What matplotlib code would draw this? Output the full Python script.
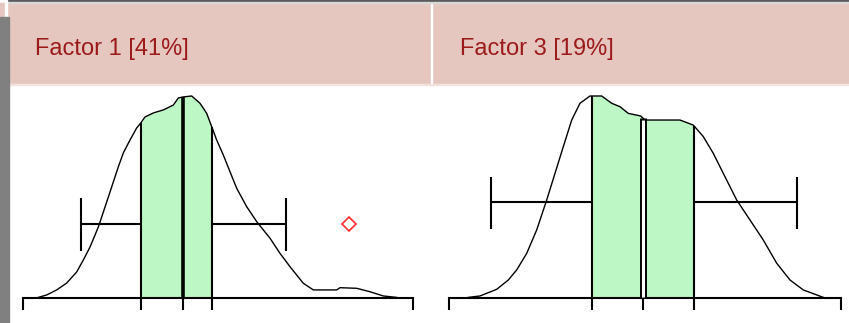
import matplotlib.pyplot as plt
from matplotlib.patches import Rectangle
import numpy as np

#-------------------------------------------------------------------------
# data (x in score units, density scaled to peak = 1)
#-------------------------------------------------------------------------

titles = [ 'Factor 1 [41%]', 'Factor 3 [19%]' ]

f1_x = [ 1.53, 2.37, 3.37, 4.37, 5.37, 6.03, 6.70, 7.53, 8.20, 8.87, 9.53,
         10.03, 10.70, 11.37, 11.77, 12.20, 13.03, 14.03, 15.03, 15.53, 15.97,
         16.87, 17.70, 18.37, 18.87, 19.37, 20.03, 20.70, 21.37, 22.37, 23.37,
         24.70, 25.70, 26.70, 28.03, 29.03, 31.37, 31.70, 33.37, 34.70, 36.03,
         37.37 ]
f1_d = [ 0.003, 0.015, 0.040, 0.074, 0.129, 0.188, 0.252, 0.351, 0.450, 0.550,
         0.649, 0.718, 0.782, 0.842, 0.866, 0.896, 0.916, 0.931, 0.955, 0.990,
         0.995, 1.000, 0.964, 0.914, 0.848, 0.782, 0.708, 0.625, 0.543, 0.452,
         0.378, 0.296, 0.221, 0.155, 0.073, 0.040, 0.040, 0.051, 0.048, 0.031,
         0.010, 0.003 ]
f1_stats   = [ 0.0, 11.77, 16.03, 18.87, 39.03 ]   # min, q1, median, q3, max
f1_whisk   = [ 5.8, 26.3 ]
f1_whisk_y = 0.366
f1_cap     = [ 0.233, 0.495 ]
f1_point   = [ 32.63, 0.365 ]

f2_x = [ 1.93, 3.10, 4.77, 5.93, 6.77, 7.77, 8.77, 9.77, 10.60, 11.43, 12.27,
         13.10, 14.10, 15.27, 16.27, 17.10, 17.93, 19.17, 19.60, 23.10, 24.43,
         25.43, 26.43, 27.43, 28.77, 30.10, 31.43, 32.77, 34.10, 35.43, 37.43 ]
f2_d = [ 0.003, 0.010, 0.043, 0.089, 0.139, 0.221, 0.337, 0.485, 0.617, 0.749,
         0.881, 0.964, 1.000, 1.000, 0.964, 0.947, 0.914, 0.901, 0.881, 0.881,
         0.856, 0.799, 0.716, 0.617, 0.485, 0.386, 0.287, 0.172, 0.089, 0.040,
         0.003 ]
f2_stats   = [ 0.0, 14.27, 19.37, 24.50, 39.17 ]
f2_whisk   = [ 4.2, 34.77 ]
f2_whisk_y = 0.474
f2_cap     = [ 0.342, 0.600 ]

#-------------------------------------------------------------------------
# helpers
#-------------------------------------------------------------------------

W, H = 849, 323
pink  = '#e6c7c0'
green = '#bdf7c6'
title_color = '#9b1b1b'

def fx( px ):
  return px / W

def fy( py ):
  return 1 - py / H

def draw_panel( ax, x, d, stats, whisk, whisk_y, cap, split_median ):
  x = np.asarray( x )
  d = np.asarray( d )
  lo, q1, med, q3, hi = stats
  h = lambda v: np.interp( v, x, d )

  # shaded inter-quartile area
  inner = ( x > q1 ) & ( x < q3 )
  xs = np.concatenate( [ [q1], x[inner], [q3] ] )
  ys = np.concatenate( [ [h(q1)], d[inner], [h(q3)] ] )
  ax.fill_between( xs, 0, ys, color=green, lw=0, zorder=1 )

  ax.plot( x, d, color='black', lw=1.0, zorder=3 )

  # baseline and ticks
  tick = 0.06
  ax.plot( [lo, hi], [0, 0], color='black', lw=1.5, zorder=4 )
  ax.vlines( stats, -tick, 0, color='black', lw=1.5, zorder=4 )
  ax.vlines( [q1, q3], 0, [h(q1), h(q3)], color='black', lw=1.5, zorder=4 )

  # median
  if split_median:
    ax.vlines( med, 0, h(med), color='black', lw=5.0, zorder=4 )
    ax.vlines( med, 0.005, h(med) - 0.01, color='white', lw=2.2, zorder=5 )
  else:
    ax.vlines( med, 0, h(med), color='black', lw=2.6, zorder=4 )

  # whiskers
  ax.hlines( [whisk_y, whisk_y], [whisk[0], q3], [q1, whisk[1]],
             color='black', lw=1.5, zorder=4 )
  ax.vlines( whisk, cap[0], cap[1], color='black', lw=1.5, zorder=4 )

#-------------------------------------------------------------------------
# main
#-------------------------------------------------------------------------

fig = plt.figure( figsize=(W/100, H/100), dpi=100 )

# header band
fig.patches.append( Rectangle( (0, fy(84)), 1, (84-3)/H, transform=fig.transFigure,
                               color=pink, zorder=0 ) )
fig.patches.append( Rectangle( (fx(430.5), fy(84)), fx(1.6), (84-3)/H,
                               transform=fig.transFigure, color='white', zorder=1 ) )
fig.patches.append( Rectangle( (fx(7), fy(2)), 1, 2/H, transform=fig.transFigure,
                               color='#5a5a5a', zorder=1 ) )
fig.patches.append( Rectangle( (fx(7), fy(3)), 1, 1/H, transform=fig.transFigure,
                               color='#d8d8d8', zorder=1 ) )
fig.patches.append( Rectangle( (fx(5), fy(17)), fx(2), 17/H, transform=fig.transFigure,
                               color='white', zorder=1 ) )
fig.patches.append( Rectangle( (fx(7), fy(85.5)), 1, 1.5/H, transform=fig.transFigure,
                               color='#f3e3df', zorder=1 ) )

# panels
ylim = ( -(323-298)/202, (298-84)/202 )
ax1 = fig.add_axes( [fx(0), 0, fx(430), (323-84)/H] )
ax1.set_xlim( -2.3, 40.7 )
ax1.set_ylim( *ylim )
ax1.axis( 'off' )
draw_panel( ax1, f1_x, f1_d, f1_stats, f1_whisk, f1_whisk_y, f1_cap, False )
ax1.plot( f1_point[0], f1_point[1], 'D', markersize=7.5, markerfacecolor='none',
          markeredgecolor='#ff2a2a', markeredgewidth=1.2, zorder=5 )

ax2 = fig.add_axes( [fx(432), 0, fx(849-432), (323-84)/H] )
ax2.set_xlim( -1.7, 40.0 )
ax2.set_ylim( *ylim )
ax2.axis( 'off' )
draw_panel( ax2, f2_x, f2_d, f2_stats, f2_whisk, f2_whisk_y, f2_cap, True )

# titles
fig.text( fx(35), fy(55), titles[0], color=title_color, fontsize=17,
          family='Liberation Sans', va='baseline' )
fig.text( fx(460), fy(55), titles[1], color=title_color, fontsize=17,
          family='Liberation Sans', va='baseline' )

# grey strip at the left edge
fig.patches.append( Rectangle( (0, 0), fx(9), fy(17), transform=fig.transFigure,
                               color='#808080', zorder=10 ) )

plt.savefig( 'out.png', dpi=100 )
